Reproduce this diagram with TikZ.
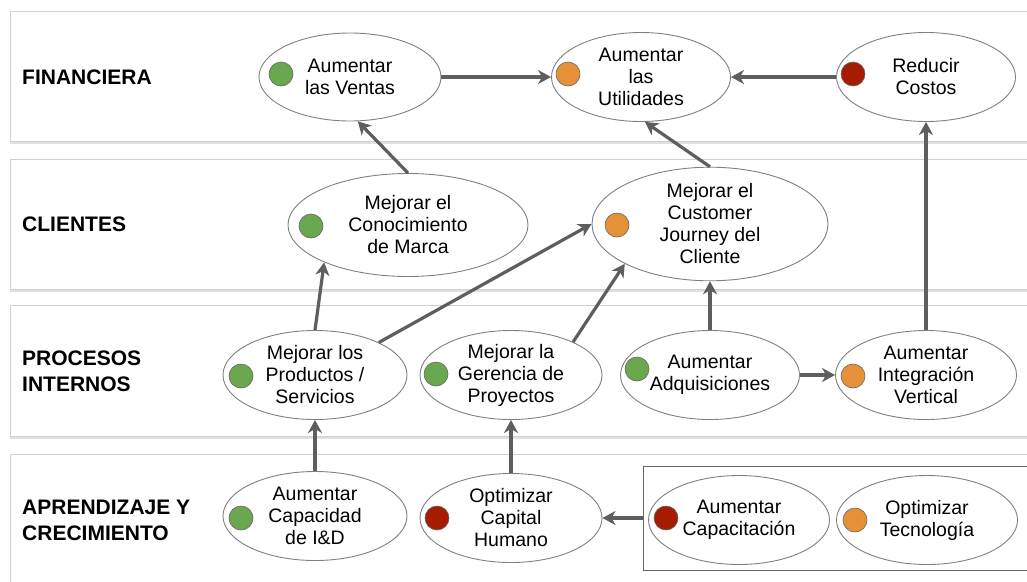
\documentclass[tikz,border=0pt]{standalone}
\usepackage{fontspec}
\setmainfont{Liberation Sans}
\usetikzlibrary{arrows.meta,shapes.geometric}
\definecolor{okgreen}{HTML}{6AA84F}
\definecolor{midorange}{HTML}{E69138}
\definecolor{badred}{HTML}{A61C00}
\definecolor{arrowgray}{HTML}{5E5E5E}
\definecolor{bandline}{HTML}{D0D0D0}
\definecolor{ellline}{HTML}{808080}
\tikzset{
  band/.style={draw=bandline, line width=0.9pt, fill=white},
  bandshadow/.style={fill=black!12, draw=none},
  lbl/.style={anchor=west, font=\fontsize{21}{26}\selectfont\bfseries, align=left, inner sep=0pt},
  obj/.style={ellipse, draw=ellline, line width=0.9pt, fill=white, align=center, inner sep=0pt,
              font=\fontsize{19.5}{22}\selectfont},
  dot/.style={circle, draw=black!60, line width=0.6pt, minimum size=24pt, inner sep=0pt},
  conn/.style={draw=arrowgray, line width=3.2pt, -{Stealth[length=13pt,width=14pt,inset=4pt]}},
  groupbox/.style={draw=black!60, line width=0.9pt, fill=white}
}
\begin{document}
\begin{tikzpicture}[x=1pt,y=-1pt]
\useasboundingbox (0,0) rectangle (1027,581);
% bands
\foreach \t/\b in {11/141,159/289,305/436,454/620}{
  \fill[bandshadow] (10,\t+2) rectangle (1040,\b+3);
  \draw[band] (10,\t) rectangle (1040,\b);
}
% labels
\node[lbl] (l1) at (22,77) {FINANCIERA};
\node[lbl] (l2) at (22,224) {CLIENTES};
\node[lbl] (l3) at (22,371) {PROCESOS\\INTERNOS};
\node[lbl] (l4) at (22,520) {APRENDIZAJE Y\\CRECIMIENTO};
% group box
\draw[groupbox] (643,466) rectangle (1040,570);
\coordinate (boxw) at (643,518);
% objectives
\node[obj, minimum width=182pt, minimum height=88pt] (ventas) at (350,77) {Aumentar\\las Ventas};
\node[obj, minimum width=179pt, minimum height=89pt] (util) at (641,77) {Aumentar\\las\\Utilidades};
\node[obj, minimum width=179pt, minimum height=89pt] (costos) at (926,77) {Reducir\\Costos};
\node[obj, minimum width=240pt, minimum height=103pt] (marca) at (408,225) {Mejorar el\\Conocimiento\\de Marca};
\node[obj, minimum width=236pt, minimum height=104pt] (journey) at (710,224) {Mejorar el\\Customer\\Journey del\\Cliente};
\node[obj, minimum width=184pt, minimum height=89pt] (prod) at (315,375) {Mejorar los\\Productos /\\Servicios};
\node[obj, minimum width=182pt, minimum height=89pt] (geren) at (511,375) {Mejorar la\\Gerencia de\\Proyectos};
\node[obj, minimum width=179pt, minimum height=89pt] (adq) at (710,375) {Aumentar\\Adquisiciones};
\node[obj, minimum width=181pt, minimum height=89pt] (integ) at (926,375) {Aumentar\\Integración\\Vertical};
\node[obj, minimum width=184pt, minimum height=89pt] (idd) at (315,516) {Aumentar\\Capacidad\\de I\&D};
\node[obj, minimum width=182pt, minimum height=89pt] (capital) at (511,518) {Optimizar\\Capital\\Humano};
\node[obj, minimum width=181pt, minimum height=89pt] (capac) at (739,520) {Aumentar\\Capacitación};
\node[obj, minimum width=181pt, minimum height=89pt] (tecno) at (927,520) {Optimizar\\Tecnología};
% status dots
\node[dot, fill=okgreen] (d1) at (281,74) {};
\node[dot, fill=midorange] (d2) at (568,74) {};
\node[dot, fill=badred] (d3) at (853,74) {};
\node[dot, fill=okgreen] (d4) at (311,226) {};
\node[dot, fill=midorange] (d5) at (617,225) {};
\node[dot, fill=okgreen] (d6) at (241,376) {};
\node[dot, fill=okgreen] (d7) at (436,374) {};
\node[dot, fill=okgreen] (d8) at (637,369) {};
\node[dot, fill=midorange] (d9) at (853,376) {};
\node[dot, fill=okgreen] (d10) at (241,518) {};
\node[dot, fill=badred] (d11) at (437,518) {};
\node[dot, fill=badred] (d12) at (666,518) {};
\node[dot, fill=midorange] (d13) at (855,520) {};
% connectors
\draw[conn] (ventas.east) -- (util.west);
\draw[conn] (costos.west) -- (util.east);
\draw[conn] (marca.north) -- (ventas.-80);
\draw[conn] (journey.north) -- (util.-85);
\draw[conn] (integ.north) -- (costos.south);
\draw[conn] (prod.north) -- (marca.-156);
\draw[conn] (prod.27) -- (journey.west);
\draw[conn] (geren.28) -- (journey.-155);
\draw[conn] (adq.north) -- (journey.south);
\draw[conn] (adq.east) -- (integ.west);
\draw[conn] (idd.north) -- (prod.south);
\draw[conn] (capital.north) -- (geren.south);
\draw[conn] (boxw) -- (capital.east);
\end{tikzpicture}
\end{document}
